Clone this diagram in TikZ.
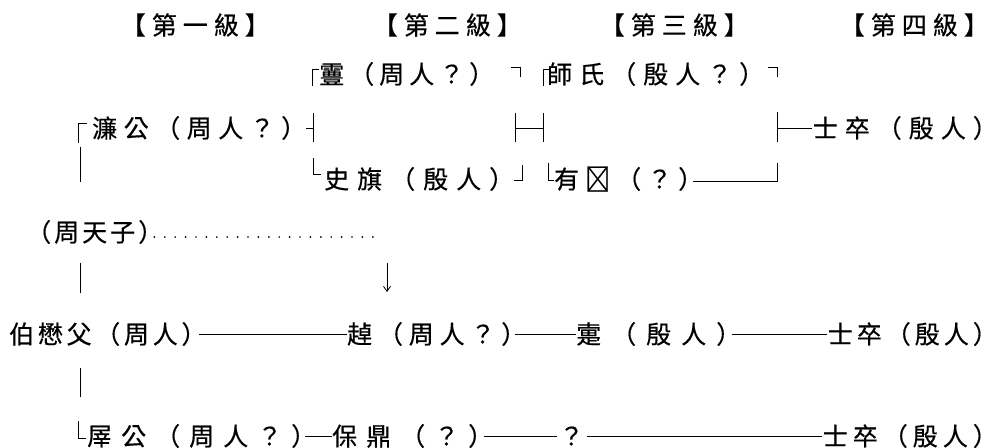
\documentclass[tikz,border=0pt]{standalone}
\usepackage{fontspec}
\newfontfamily\cjkfont[FakeBold=0.4]{Noto Sans CJK TC}
\usetikzlibrary{arrows.meta}
% each character in a box of a given pitch
\newcommand\T[2]{\def\pitch{#1}\dosp#2\relax}
\def\dosp#1{\ifx#1\relax\else\makebox[\pitch pt][l]{#1}\expandafter\dosp\fi}
\newcommand\rp{\makebox[12pt][l]{）}}
\newcommand\rb{\makebox[13pt][l]{】}}
\begin{document}
\begin{tikzpicture}[x=1pt,y=-1pt,
  lab/.style={inner sep=0pt, anchor=west, text height=22pt, text depth=3pt, font={\cjkfont\fontsize{25pt}{30pt}\selectfont}},
  hd/.style={lab, anchor=east},
  ln/.style={line width=0.8pt},
  dots/.style={line width=1.9pt, line cap=round, dash pattern=on 0pt off 10.4pt},
  arr/.style={ln, -{Straight Barb[length=5pt,width=7pt]}}
]
\useasboundingbox (0,0) rectangle (985,447);
% headers
\node[hd] (h1) at (258,25) {\T{31}{【第一級}\rb};
\node[hd] (h2) at (510,25) {\T{31}{【第二級}\rb};
\node[hd] (h3) at (737,25) {\T{31}{【第三級}\rb};
\node[hd] (h4) at (977,25) {\T{31}{【第四級}\rb};
% row 1
\node[lab] (xue) at (319,74) {\T{30}{霻（周人？}\rp};
\node[lab] (shishi) at (547,74) {\T{32}{師氏（殷人？}\rp};
% row 2
\node[lab] (lian) at (92,128) {\T{31.5}{濂公（周人？}\rp};
\node[lab, anchor=east] (shizu1) at (985,128) {\T{32}{士卒（殷人}\rp};
% row 3
\node[lab] (shiyu) at (324,179) {\T{33}{史旗（殷人}\rp};
\node[lab] (yousi) at (554,179) {\T{31}{有𤔲（？}\rp};
% row 4
\node[lab] (tianzi) at (26,232) {\T{28}{（周天子}\rp};
% row 6
\node[lab] (bmf) at (9,334) {\T{28.7}{伯懋父（周人}\rp};
\node[lab] (zhuo) at (347,334) {\T{30.8}{趠（周人？}\rp};
\node[lab] (zhi) at (576,334) {\T{35}{疐（殷人}\rp};
\node[lab, anchor=east] (shizu2) at (985,334) {\T{29}{士卒（殷人}\rp};
% row 8
\node[lab] (xigong) at (87,436) {\T{34}{屖公（周人？}\rp};
\node[lab] (bao) at (332,436) {\T{34}{保鼎（？}\rp};
\node[lab, anchor=center] (q) at (571.5,436) {？};
\node[lab, anchor=east] (shizu3) at (985,436) {\T{30}{士卒（殷人}\rp};

% brackets row 1
\draw[ln] (319,69) -- (312,69) -- (312,86);
\draw[ln] (511,67) -- (520,67) -- (520,77);
\draw[ln] (550,69) -- (543,69) -- (543,86);
\draw[ln] (768,67) -- (777,67) -- (777,77);
% row 2
\draw[ln] (87,123) -- (78,123) -- (78,143);
\draw[ln] (313,113) -- (313,142) (306,128) -- (313,128);
\draw[ln] (515,113) -- (515,142) (515,128) -- (543,128) (543,113) -- (543,142);
\coordinate (t4) at (777,128);
\draw[ln] (777,112) -- (777,142);
\draw[ln] (t4) -- ([xshift=-1pt]shizu1.west);
% row 3
\draw[ln] (313,158) -- (313,174) -- (321,174);
\draw[ln] (514,180) -- (522,180) -- (522,165);
\draw[ln] (548,163) -- (548,180) -- (554,180);
\coordinate (c4) at (777,181);
\draw[ln] ([xshift=3pt]yousi.east |- c4) -- (c4) -- ++(0,-18);
% vertical bars
\draw[ln] (80,147) -- (80,182);
\draw[ln] (80,263) -- (80,293);
\draw[ln] (80,368) -- (80,397);
% dotted line and arrow
\coordinate (dend) at (382,237);
\draw[dots] ([xshift=4pt]tianzi.east |- dend) -- (dend);
\coordinate (atop) at (387,263);
\draw[arr] (atop) -- ++(0,29);
% row 6 connectors
\draw[ln, shorten <=5pt] (bmf.east) -- (zhuo.west);
\draw[ln, shorten <=2pt] (zhuo.east) -- (zhi.west);
\draw[ln, shorten <=4pt] (zhi.east) -- ([xshift=-1pt]shizu2.west);
% row 8
\draw[ln] (78,421) -- (78,438) -- (86,438);
\draw[ln, shorten <=2pt] (xigong.east) -- (bao.west);
\draw[ln, shorten <=4pt, shorten >=2pt] (bao.east) -- (q.west);
\draw[ln, shorten <=3pt] (q.east) -- ([xshift=-1pt]shizu3.west);
\end{tikzpicture}
\end{document}
